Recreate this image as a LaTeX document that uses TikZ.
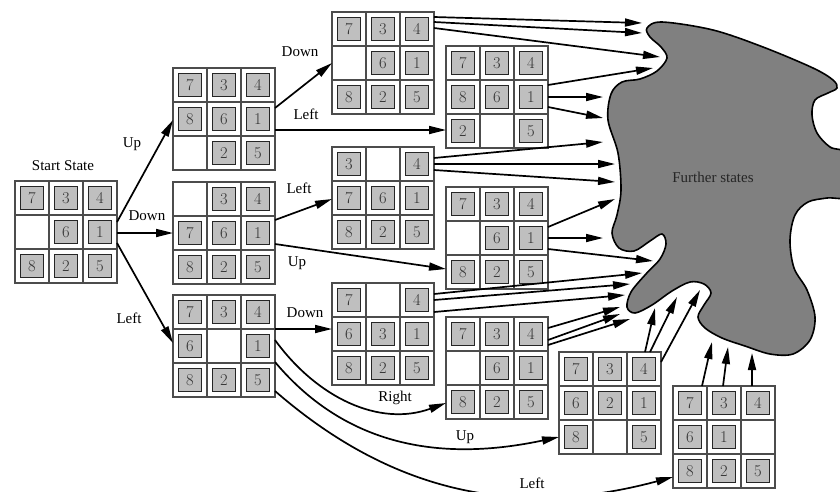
\documentclass[tikz,border=0pt]{standalone}
\usepackage{fontspec}
\newfontfamily\tms{Liberation Serif}
\usetikzlibrary{arrows.meta,calc}
\tikzset{
  gridframe/.style={draw=black!70, line width=1.4pt, minimum size=102pt, inner sep=0pt, outer sep=0pt},
  gridline/.style={draw=black!70, line width=1.4pt},
  tile/.style={draw=black!85, fill=black!25, line width=0.9pt, minimum size=23pt, inner sep=0pt,
    font=\fontsize{16.5}{16.5}\selectfont, text=black!80},
  conn/.style={line width=1.7pt, -{Triangle[length=17pt,width=8pt]}},
  lbl/.style={font=\tms\fontsize{15}{18}\selectfont, inner sep=0pt},
  cloudshape/.style={draw=black, fill=black!50, line width=1.6pt},
}
\newcommand\puzzle[4]{%
  \node[gridframe] (#1) at (#2+51,#3+51) {};
  \draw[gridline] (#2+34,#3) -- (#2+34,#3+102) (#2+68,#3) -- (#2+68,#3+102)
                  (#2,#3+34) -- (#2+102,#3+34) (#2,#3+68) -- (#2+102,#3+68);
  \foreach \d [count=\i from 0] in {#4} {%
    \pgfmathtruncatemacro\cc{mod(\i,3)}%
    \pgfmathtruncatemacro\rr{floor(\i/3)}%
    \ifnum\d>0 \node[tile] (#1-\i) at (#2+\cc*34+17,#3+\rr*34+17) {\d};\fi
  }%
}
\newcommand\gpt[3]{($(#1.north west)+(#2,#3)$)}
\begin{document}
\begin{tikzpicture}[x=1pt,y=-1pt]
\useasboundingbox (0,0) rectangle (840,491);

% cloud
\draw[cloudshape] plot[smooth cycle, tension=0.55] coordinates {
 (647,28) (662,22) (713,30) (763,47) (813,68) (833,80) (837,88) (828,93) (815,100)
 (812,115) (817,133) (830,147) (848,155) (850,195) (827,198) (808,202)
 (795,215) (790,240) (794,268) (807,290) (815,317) (810,340) (793,354) (770,354)
 (745,346) (722,338) (705,328) (698,317) (704,305) (711,293) (704,284) (690,282)
 (672,291) (652,305) (635,313) (627,307) (631,292) (645,275) (660,259) (666,244)
 (662,234) (650,241) (634,251) (619,248) (612,233) (617,215) (621,190) (618,153)
 (608,120) (611,94) (622,82) (640,79) (657,71) (667,58) (661,47) (650,37)};
\node[font=\tms\fontsize{15}{18}\selectfont, text=black!85, inner sep=0pt] (FS) at (713,177) {Further states};

% puzzles
\puzzle{S}{15}{181}{7,3,4,0,6,1,8,2,5}
\puzzle{U}{173}{68}{7,3,4,8,6,1,0,2,5}
\puzzle{D}{173}{182}{0,3,4,7,6,1,8,2,5}
\puzzle{L}{173}{295}{7,3,4,6,0,1,8,2,5}
\puzzle{UD}{332}{12}{7,3,4,0,6,1,8,2,5}
\puzzle{UL}{446}{46}{7,3,4,8,6,1,2,0,5}
\puzzle{DL}{332}{147}{3,0,4,7,6,1,8,2,5}
\puzzle{DU}{446}{187}{7,3,4,0,6,1,8,2,5}
\puzzle{LD}{332}{283}{7,0,4,6,3,1,8,2,5}
\puzzle{LR}{446}{317}{7,3,4,0,6,1,8,2,5}
\puzzle{LU}{559}{352}{7,3,4,6,2,1,8,0,5}
\puzzle{LL}{673}{386}{7,3,4,6,1,0,8,2,5}

% labels
\node[lbl] (lStart) at (63,166) {Start State};
\node[lbl] (lUp1) at (132,144) {Up};
\node[lbl] (lDown1) at (147,216) {Down};
\node[lbl] (lLeft1) at (129,318) {Left};
\node[lbl] (lDown2) at (300,52) {Down};
\node[lbl] (lLeft2) at (306,114) {Left};
\node[lbl] (lLeft3) at (299,188) {Left};
\node[lbl] (lUp3) at (297,263) {Up};
\node[lbl] (lDown4) at (305,313) {Down};
\node[lbl] (lRight) at (395,398) {Right};
\node[lbl] (lUp5) at (465,437) {Up};
\node[lbl] (lLeft6) at (532,483) {Left};

% first level
\draw[conn] \gpt{S}{102}{41} -- \gpt{U}{0}{52};
\draw[conn] \gpt{S}{102}{52} -- \gpt{D}{0}{51};
\draw[conn] \gpt{S}{102}{62} -- \gpt{L}{0}{48};
% second level
\draw[conn] \gpt{U}{102}{40} -- \gpt{UD}{0}{51};
\draw[conn] \gpt{U}{102}{62} -- \gpt{UL}{0}{84};
\draw[conn] \gpt{D}{102}{38} -- \gpt{DL}{0}{52};
\draw[conn] \gpt{D}{102}{62} -- \gpt{DU}{0}{82};
\draw[conn] \gpt{L}{102}{34} -- \gpt{LD}{0}{46};
\draw[conn] ($(L.north west)+(102,45)$) to[out=-54,in=200] ($(LR.north west)+(0,86)$);
\draw[conn] ($(L.north west)+(102,67)$) to[out=-50,in=192] ($(LU.north west)+(0,85)$);
\draw[conn] ($(L.north west)+(102,96)$) to[out=-41,in=195] ($(LL.north west)+(0,91)$);

% to further states
\coordinate (c1) at (642,23);  \coordinate (c2) at (642,33);  \coordinate (c3) at (660,57);
\coordinate (c4) at (653,68);  \coordinate (c5) at (603,97);  \coordinate (c6) at (603,118);
\coordinate (c7) at (603,142); \coordinate (c8) at (615,164); \coordinate (c9) at (615,182);
\coordinate (c10) at (615,199); \coordinate (c11) at (603,238); \coordinate (c12) at (653,261);
\coordinate (c13) at (642,273); \coordinate (c14) at (630,284); \coordinate (c15) at (625,295);
\coordinate (c16) at (620,307); \coordinate (c17) at (620,314); \coordinate (c18) at (630,319);
\coordinate (c19) at (655,308); \coordinate (c20) at (677,297); \coordinate (c21) at (700,290);
\coordinate (c22) at (712,342); \coordinate (c23) at (728,347); \coordinate (c24) at (752,353);

\draw[conn] \gpt{UD}{102}{5} -- (c1);
\draw[conn] \gpt{UD}{102}{10} -- (c2);
\draw[conn] \gpt{UD}{102}{16} -- (c3);
\draw[conn] \gpt{UL}{102}{39} -- (c4);
\draw[conn] \gpt{UL}{102}{51} -- (c5);
\draw[conn] \gpt{UL}{102}{61} -- (c6);
\draw[conn] \gpt{DL}{102}{11} -- (c7);
\draw[conn] \gpt{DL}{102}{17} -- (c8);
\draw[conn] \gpt{DL}{102}{23} -- (c9);
\draw[conn] \gpt{DU}{102}{40} -- (c10);
\draw[conn] \gpt{DU}{102}{51} -- (c11);
\draw[conn] \gpt{DU}{102}{62} -- (c12);
\draw[conn] \gpt{LD}{102}{11} -- (c13);
\draw[conn] \gpt{LD}{102}{17} -- (c14);
\draw[conn] \gpt{LD}{102}{29} -- (c15);
\draw[conn] \gpt{LR}{102}{11} -- (c16);
\draw[conn] \gpt{LR}{102}{23} -- (c17);
\draw[conn] \gpt{LR}{102}{28} -- (c18);
\draw[conn] \gpt{LU}{86}{0} -- (c19);
\draw[conn] \gpt{LU}{91}{0} -- (c20);
\draw[conn] \gpt{LU}{102}{10} -- (c21);
\draw[conn] \gpt{LL}{29}{0} -- (c22);
\draw[conn] \gpt{LL}{50}{0} -- (c23);
\draw[conn] \gpt{LL}{79}{0} -- (c24);
\end{tikzpicture}
\end{document}
